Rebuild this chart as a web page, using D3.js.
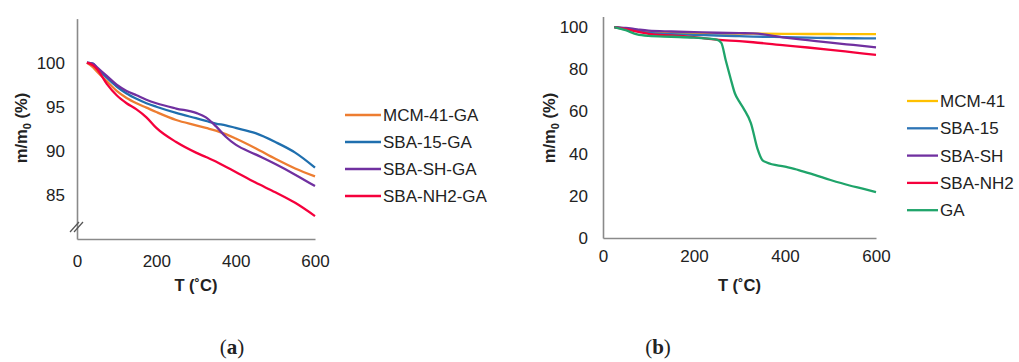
<!DOCTYPE html>
<html>
<head>
<meta charset="utf-8">
<script src="https://cdn.jsdelivr.net/npm/d3@7"></script>
<style>
  body { margin: 0; background: #fff; }
  text { font-family: "Liberation Sans", Arial, sans-serif; fill: #222; }
  .axis path { stroke: #8a8a8a; stroke-width: 1.6; }
  .axis text { font-size: 17px; fill: #222; }
  .title { font-size: 16.5px; font-weight: bold; }
  .legend text { font-size: 17px; }
  .cap { font-family: "Liberation Serif", "DejaVu Serif", serif; font-size: 21px; }
</style>
</head>
<body>
<svg id="chart"></svg>
<script>
// panel (a): TGA of GA-loaded materials
const tempA = [25, 40, 50, 75, 100, 125, 150, 175, 200, 250, 300, 325, 350, 375, 400, 450, 500, 550, 600];
const mcm41GA = [100, 99.5, 99.0, 97.9, 96.8, 96.0, 95.4, 94.9, 94.4, 93.5, 92.9, 92.6, 92.3, 91.9, 91.4, 90.3, 89.1, 88.0, 87.1];
const sba15GA = [100, 99.9, 99.4, 98.3, 97.3, 96.5, 95.9, 95.4, 95.0, 94.3, 93.7, 93.4, 93.1, 92.9, 92.6, 92.0, 91.0, 89.8, 88.1];
const sbaShGA = [100, 99.9, 99.5, 98.5, 97.5, 96.8, 96.3, 95.8, 95.4, 94.8, 94.3, 93.8, 92.8, 91.6, 90.7, 89.6, 88.5, 87.3, 86.0];
const sbaNh2GA = [100, 99.7, 99.3, 97.6, 96.3, 95.4, 94.7, 93.8, 92.6, 91.0, 89.8, 89.3, 88.8, 88.2, 87.6, 86.4, 85.3, 84.1, 82.6];
const namesA = ["MCM-41-GA", "SBA-15-GA", "SBA-SH-GA", "SBA-NH2-GA"];
const colorsA = ["#ed7d31", "#1f6fae", "#7030a0", "#f5003c"];
const yTicksA = [85, 90, 95, 100];

// panel (b): bare materials and GA
const tempB = [25, 50, 75, 100, 150, 200, 250, 300, 330, 400, 450, 500, 550, 600];
const mcm41 = [100, 99.2, 98.4, 97.8, 97.3, 97.1, 97.0, 96.9, 96.9, 96.8, 96.7, 96.7, 96.6, 96.6];
const sba15 = [100, 99.2, 98.2, 97.2, 96.6, 96.3, 96.0, 95.7, 95.5, 95.2, 95.0, 94.8, 94.7, 94.6];
const sbaSh = [100, 99.6, 98.9, 98.3, 97.9, 97.6, 97.3, 97.1, 97.0, 95.0, 93.8, 92.6, 91.5, 90.4];
const sbaNh2 = [100, 99.0, 97.8, 96.8, 96.0, 95.2, 94.0, 93.3, 92.8, 91.3, 90.3, 89.2, 88.0, 86.8];
const tempGA = [25, 50, 75, 100, 150, 200, 250, 260, 270, 280, 290, 300, 310, 325, 340, 350, 360, 400, 430, 465, 500, 540, 575, 600];
const ga = [100, 98.5, 96.5, 95.8, 95.4, 95.0, 94.0, 92.5, 84, 76, 68.5, 64.5, 61, 54.5, 42, 37, 35.8, 33.8, 32.2, 29.9, 27.5, 25.0, 23.2, 21.8];
const namesB = ["MCM-41", "SBA-15", "SBA-SH", "SBA-NH2", "GA"];
const colorsB = ["#ffc000", "#2e75b6", "#7030a0", "#f5003c", "#1fa46a"];
const yTicksB = [0, 20, 40, 60, 80, 100];
const xTicks = [0, 200, 400, 600];

const width = 1019, height = 362;
const svg = d3.select("#chart").attr("width", width).attr("height", height);
svg.append("rect").attr("width", width).attr("height", height).attr("fill", "#fff");

function panel(opt) {
  const x = d3.scaleLinear().domain([0, 600]).range(opt.xr);
  const y = d3.scaleLinear().domain(opt.yd).range(opt.yr);
  const g = svg.append("g");

  g.append("g").attr("class", "axis")
    .attr("transform", `translate(0,${opt.yr[0]})`)
    .call(d3.axisBottom(x).tickValues(xTicks).tickSize(0).tickPadding(opt.xPad))
    .call(a => a.selectAll("text").attr("dy", "0.71em"));
  g.append("g").attr("class", "axis")
    .attr("transform", `translate(${opt.xr[0]},0)`)
    .call(d3.axisLeft(y).tickValues(opt.yTicks).tickSize(0).tickPadding(opt.yPad));

  const line = d3.line().x(d => x(d[0])).y(d => y(d[1])).curve(d3.curveMonotoneX);
  opt.series.forEach((s, i) => {
    g.append("path")
      .datum(d3.zip(s.t, s.v))
      .attr("fill", "none")
      .attr("stroke", opt.colors[i])
      .attr("stroke-width", 2.3)
      .attr("d", line);
  });

  // axis titles
  const cx = (opt.xr[0] + opt.xr[1]) / 2;
  g.append("text").attr("class", "title")
    .attr("x", cx).attr("y", 291).attr("text-anchor", "middle")
    .text("T (˚C)");
  const yl = g.append("text").attr("class", "title")
    .attr("transform", `translate(${opt.yLabelX},128) rotate(-90)`)
    .attr("text-anchor", "middle");
  yl.append("tspan").text("m/m");
  yl.append("tspan").attr("font-size", "11px").attr("dy", 4).text("0");
  yl.append("tspan").attr("dy", -4).text(" (%)");

  // legend
  const lg = g.append("g").attr("class", "legend");
  opt.names.forEach((n, i) => {
    const ly = opt.legY + i * opt.legStep;
    lg.append("line")
      .attr("x1", opt.legX).attr("x2", opt.legX + opt.legLen)
      .attr("y1", ly).attr("y2", ly)
      .attr("stroke", opt.colors[i]).attr("stroke-width", 2.3);
    lg.append("text")
      .attr("x", opt.legX + opt.legLen + 2).attr("y", ly).attr("dy", "0.35em")
      .text(n);
  });

  // caption
  const cap = svg.append("text").attr("class", "cap")
    .attr("x", opt.capX).attr("y", 354).attr("text-anchor", "middle");
  cap.append("tspan").text("(");
  cap.append("tspan").attr("font-weight", "bold").text(opt.cap);
  cap.append("tspan").text(")");
  return { x, y, g };
}

const pa = panel({
  xr: [77, 315], yd: [80, 105], yr: [239, 18.6], yTicks: yTicksA,
  xPad: 16, yPad: 12, yLabelX: 27,
  series: [
    { t: tempA, v: mcm41GA }, { t: tempA, v: sba15GA },
    { t: tempA, v: sbaShGA }, { t: tempA, v: sbaNh2GA }
  ],
  names: namesA, colors: colorsA,
  legX: 345, legLen: 36, legY: 115, legStep: 27,
  capX: 232, cap: "a"
});

// axis break marks on panel (a)
[-2, 2].forEach(dx => {
  pa.g.append("line")
    .attr("x1", 72 + dx).attr("y1", 232)
    .attr("x2", 81 + dx).attr("y2", 222)
    .attr("stroke", "#555").attr("stroke-width", 1.2);
});

panel({
  xr: [603, 876], yd: [0, 105], yr: [238, 16.5], yTicks: yTicksB,
  xPad: 12, yPad: 15, yLabelX: 555,
  series: [
    { t: tempB, v: mcm41 }, { t: tempB, v: sba15 }, { t: tempB, v: sbaSh },
    { t: tempB, v: sbaNh2 }, { t: tempGA, v: ga }
  ],
  names: namesB, colors: colorsB,
  legX: 907, legLen: 31, legY: 101, legStep: 27.3,
  capX: 658, cap: "b"
});
</script>
</body>
</html>
